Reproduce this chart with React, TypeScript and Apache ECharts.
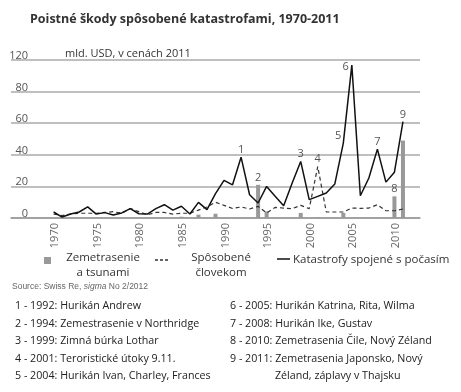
import React, { useEffect, useRef } from "react";
import * as echarts from "echarts";

const years = [
  1970, 1971, 1972, 1973, 1974, 1975, 1976, 1977, 1978, 1979,
  1980, 1981, 1982, 1983, 1984, 1985, 1986, 1987, 1988, 1989,
  1990, 1991, 1992, 1993, 1994, 1995, 1996, 1997, 1998, 1999,
  2000, 2001, 2002, 2003, 2004, 2005, 2006, 2007, 2008, 2009,
  2010, 2011,
];
// chart's visual scale (top gridline labelled "120" in the original)
const weather = [
  3.8, 0.6, 2.5, 3.8, 7, 2.5, 3.4, 1.9, 3.2, 5.9,
  2.7, 2.5, 5.9, 8.4, 5, 7.4, 2.5, 9.9, 5.3, 15.4,
  23.8, 21, 38.5, 14.7, 9.5, 20, 13.7, 7.8, 22.1, 35.8,
  11.6, 13.7, 15.8, 21.5, 47.4, 96.8, 14.1, 25.3, 43.6, 22.7,
  29, 61,
];
const manmade = [
  2.5, 1.5, 2.5, 3, 3, 3, 3.5, 4, 3, 6,
  4, 2, 3.5, 3.5, 2.5, 3, 3, 5, 7, 10,
  8, 6, 7, 5.7, 7.4, 3.2, 6.7, 6.3, 5.9, 8,
  5.9, 32.6, 3.8, 3.8, 3.8, 6.3, 6.1, 6.3, 8.4, 4.6,
  4.6, 5.7,
];
const quake = [
  0, 0, 0, 0, 0, 0, 0, 0, 0, 0,
  0, 0, 0, 0, 0, 0.8, 0, 2.1, 0, 2.7,
  0, 0, 0, 0, 21, 4.2, 0, 0, 0, 3.2,
  0, 0.5, 0, 0, 3.2, 0, 0, 0.3, 0.3, 0,
  13.7, 49,
];
const yTickLabels: Record<number, string> = { 0: "0", 20: "20", 40: "40", 60: "60", 80: "80", 100: "120" };

const weatherNotes: Record<number, string> = { 1992: "1", 1999: "3", 2004: "5", 2005: "6", 2008: "7", 2011: "9" };
const manmadeNotes: Record<number, string> = { 2001: "4" };
const quakeNotes: Record<number, string> = { 1994: "2", 2010: "8" };

const legendNames = [["Zemetrasenie", "a tsunami"], ["Spôsobené", "človekom"], ["Katastrofy spojené s počasím"]];
const footLeft = [
  "1 - 1992: Hurikán Andrew",
  "2 - 1994: Zemestrasenie v Northridge",
  "3 - 1999: Zimná búrka Lothar",
  "4 - 2001: Teroristické útoky 9.11.",
  "5 - 2004: Hurikán Ivan, Charley, Frances",
];
const footRight = [
  "6 - 2005: Hurikán Katrina, Rita, Wilma",
  "7 - 2008: Hurikán Ike, Gustav",
  "8 - 2010: Zemetrasenia Čile, Nový Zéland",
  "9 - 2011: Zemetrasenia Japonsko, Nový",
];
const footRightCont = "Zéland, záplavy v Thajsku";

const FONT = '"Open Sans", "Noto Sans", sans-serif';
const labelStyle = { color: "#555", fontSize: 11, fontFamily: FONT };

function buildData(values: number[], notes: Record<number, string>, special?: Record<number, any>) {
  return years.map((y, i) => {
    const note = notes[y];
    if (!note) return [y, values[i]];
    const extra = (special && special[y]) || {};
    return {
      value: [y, values[i]],
      label: { show: true, formatter: note, position: "top", distance: 3, ...labelStyle, ...extra },
    };
  });
}

export default function App() {
  const ref = useRef<HTMLDivElement>(null);
  useEffect(() => {
    if (!ref.current) return;
    const chart = echarts.init(ref.current, null, { renderer: "svg" });
    const footFont = `10.7px ${FONT}`;
    const legFont = `11.5px ${FONT}`;
    const rowY = [305, 322.5, 340, 357.5, 375];
    const txt = (x: number, y: number, text: string, font: string, fill: string, align = "left") => ({
      type: "text", x, y,
      style: { text, font, fill, textAlign: align, textVerticalAlign: "middle" },
    });
    const graphic: any[] = [
      txt(30, 18, "Poistné škody spôsobené katastrofami, 1970-2011", `bold 12.5px ${FONT}`, "#333"),
      txt(65, 52, "mld. USD, v cenách 2011", `11px ${FONT}`, "#333"),
      // legend
      { type: "rect", shape: { x: 44, y: 257, width: 7, height: 7 }, style: { fill: "#999" } },
      txt(103, 256.5, legendNames[0][0], legFont, "#333", "center"),
      txt(103, 271.5, legendNames[0][1], legFont, "#333", "center"),
      { type: "line", shape: { x1: 155, y1: 260, x2: 168, y2: 260 }, style: { stroke: "#333", lineWidth: 1.5, lineDash: [3, 2] } },
      txt(221, 256.5, legendNames[1][0], legFont, "#333", "center"),
      txt(221, 271.5, legendNames[1][1], legFont, "#333", "center"),
      { type: "line", shape: { x1: 277, y1: 259, x2: 290, y2: 259 }, style: { stroke: "#111", lineWidth: 1.5 } },
      txt(293, 258, legendNames[2][0], legFont, "#333"),
      {
        type: "text", x: 12, y: 286,
        style: {
          text: "{n|Source: Swiss Re, }{i|sigma}{n| No 2/2012}",
          textVerticalAlign: "middle",
          rich: {
            n: { fontSize: 8.5, fontFamily: "Liberation Sans, sans-serif", fill: "#666" },
            i: { fontSize: 8.5, fontFamily: "Liberation Sans, sans-serif", fontStyle: "italic", fill: "#666" },
          },
        },
      },
    ];
    footLeft.forEach((t, i) => graphic.push(txt(15, rowY[i], t, footFont, "#222")));
    footRight.forEach((t, i) => graphic.push(txt(230, rowY[i], t, footFont, "#222")));
    graphic.push(txt(275, rowY[4], footRightCont, footFont, "#222"));

    chart.setOption({
      animation: false,
      grid: { left: 11, right: 41, top: 60, bottom: 174 },
      xAxis: {
        type: "value",
        min: 1965,
        max: 2013,
        interval: 5,
        splitLine: { show: false },
        axisTick: { show: false },
        axisLine: { show: true, lineStyle: { color: "#999", width: 1.5 } },
        axisLabel: {
          rotate: 90,
          margin: 5,
          color: "#666",
          fontSize: 11,
          fontFamily: FONT,
          formatter: (v: number) => (v >= 1970 && v <= 2010 && v % 5 === 0 ? String(v) : ""),
        },
      },
      yAxis: {
        type: "value",
        min: 0,
        max: 100,
        interval: 20,
        axisLine: { show: false },
        axisTick: { show: false },
        splitLine: { lineStyle: { color: "#aaa", width: 1.5 } },
        axisLabel: {
          margin: -17,
          align: "right",
          verticalAlign: "bottom",
          color: "#555",
          fontSize: 11,
          fontFamily: FONT,
          formatter: (v: number) => yTickLabels[v] ?? "",
        },
      },
      series: [
        {
          name: "Zemetrasenie a tsunami",
          type: "bar",
          barWidth: 4,
          itemStyle: { color: "#999" },
          data: buildData(quake, quakeNotes),
          z: 1,
        },
        {
          name: "Spôsobené človekom",
          type: "line",
          symbol: "circle",
          symbolSize: 0,
          showSymbol: true,
          lineStyle: { color: "#333", width: 1.2, type: [4, 3] },
          itemStyle: { color: "#333" },
          data: buildData(manmade, manmadeNotes),
          z: 2,
        },
        {
          name: "Katastrofy spojené s počasím",
          type: "line",
          symbol: "circle",
          symbolSize: 0,
          showSymbol: true,
          lineStyle: { color: "#111", width: 1.5 },
          itemStyle: { color: "#111" },
          data: buildData(weather, weatherNotes, {
            2004: { position: "left", offset: [1, -9] },
            2005: { position: "left", distance: 3 },
          }),
          z: 3,
        },
      ],
      graphic,
    });
    return () => chart.dispose();
  }, []);
  return <div ref={ref} style={{ position: "fixed", left: 0, top: 0, width: 461, height: 392 }} />;
}
